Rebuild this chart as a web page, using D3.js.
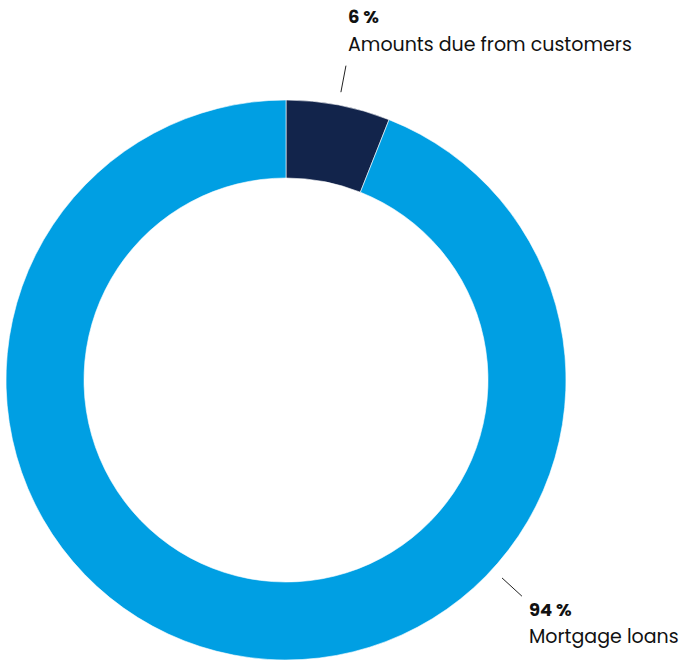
<!DOCTYPE html>
<html>
<head>
<meta charset="utf-8">
<script src="https://cdn.jsdelivr.net/npm/d3@7"></script>
<style>
  html, body { margin: 0; padding: 0; background: #fff; }
  svg { display: block; }
  text { font-family: "Poppins", "Lato", "Open Sans", sans-serif; fill: #111; }
</style>
</head>
<body>
<svg id="chart" width="680" height="662"></svg>
<script>
// Loan portfolio breakdown (percent)
const categories = ["Amounts due from customers", "Mortgage loans"];
const values = [6, 94];
const valueLabels = ["6 %", "94 %"];
const colors = ["#12244b", "#009fe3"];

const width = 680, height = 662;
const cx = 286, cy = 380;
const outerR = 280, innerR = 202;

const svg = d3.select("#chart");
const g = svg.append("g").attr("transform", `translate(${cx},${cy})`);

const pie = d3.pie().sort(null).value(d => d.value);
const arcs = pie(categories.map((c, i) => ({ name: c, value: values[i], color: colors[i] })));

const arc = d3.arc().innerRadius(innerR).outerRadius(outerR);

g.selectAll("path.slice")
  .data(arcs)
  .join("path")
  .attr("class", "slice")
  .attr("d", arc)
  .attr("fill", d => d.data.color)
  .attr("stroke", "#fff")
  .attr("stroke-width", 0.6);

// Leader lines: small radial ticks pointing to the labels
const leaderAngles = [(arcs[0].startAngle + arcs[0].endAngle) / 2, 132.5 * Math.PI / 180];
const r1 = 293, r2 = 320;
const pt = (a, r) => [r * Math.sin(a), -r * Math.cos(a)];

leaderAngles.forEach(a => {
  const p1 = pt(a, r1), p2 = pt(a, r2);
  g.append("line")
    .attr("x1", p1[0]).attr("y1", p1[1])
    .attr("x2", p2[0]).attr("y2", p2[1])
    .attr("stroke", "#222").attr("stroke-width", 1);
});

// Label blocks (value + category name)
const labelPos = [
  { x: 348, y1: 23, y2: 51 },
  { x: 529, y1: 616, y2: 643 }
];

labelPos.forEach((p, i) => {
  svg.append("text")
    .attr("x", p.x).attr("y", p.y1)
    .attr("font-size", 18).attr("font-weight", 700)
    .text(valueLabels[i]);
  svg.append("text")
    .attr("x", p.x).attr("y", p.y2)
    .attr("font-size", 19).attr("font-weight", 400)
    .text(categories[i]);
});
</script>
</body>
</html>
